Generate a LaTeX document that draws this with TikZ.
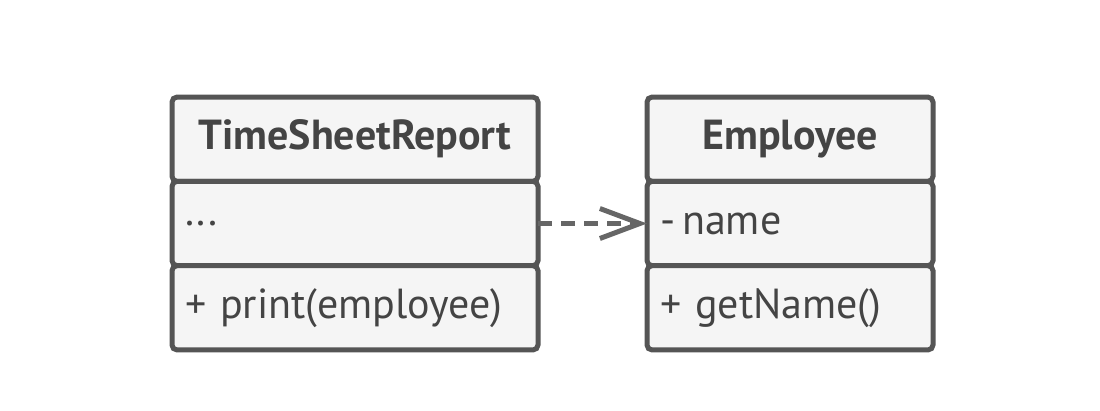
\documentclass[tikz,border=0pt]{standalone}
\usepackage{fontspec}
\setmainfont{PT Sans}
\usetikzlibrary{arrows.meta,positioning}
\definecolor{umlline}{HTML}{555555}
\definecolor{umlfill}{HTML}{F5F5F5}
\definecolor{umltext}{HTML}{444444}
\definecolor{umlarrow}{HTML}{666666}

\begin{document}
\begin{tikzpicture}
          [x=1pt,y=1pt,
          compart/.style={draw=umlline, line width=5pt, fill=umlfill, rounded corners=5pt,
              outer sep=0pt, inner sep=0pt, minimum height=84.3pt, text=umltext,
              font=\fontsize{42}{48}\selectfont},
          classhead/.style={compart, minimum width=#1, font=\fontsize{42}{48}\selectfont\bfseries},
          member/.style={compart, text width=#1, inner xsep=13pt, align=left},
          line/.style={draw=umlarrow, line width=5pt, dash pattern=on 14pt off 9pt,
              -{Straight Barb[length=40pt,width=30pt,line width=5pt]}}]

          \useasboundingbox (0,0) rectangle (1100,-410);

          % TimeSheetReport
          \node [classhead=366pt] (reporthead) at (355,-139.2) {TimeSheetReport};
          \node [member=340pt, below=0pt of reporthead] (reportattr) {.\hspace{3pt}.\hspace{3pt}.};
          \node [member=340pt, below=0pt of reportattr] (reportops) {+ print(employee)};

          % Employee
          \node [classhead=286pt] (emphead) at (790,-139.2) {Employee};
          \node [member=260pt, below=0pt of emphead] (empattr) {-\,name};
          \node [member=260pt, below=0pt of empattr] (empops) {+ getName()};

          \path [line] (reportattr.east) -- (empattr.west);
  \end{tikzpicture}
\end{document}
